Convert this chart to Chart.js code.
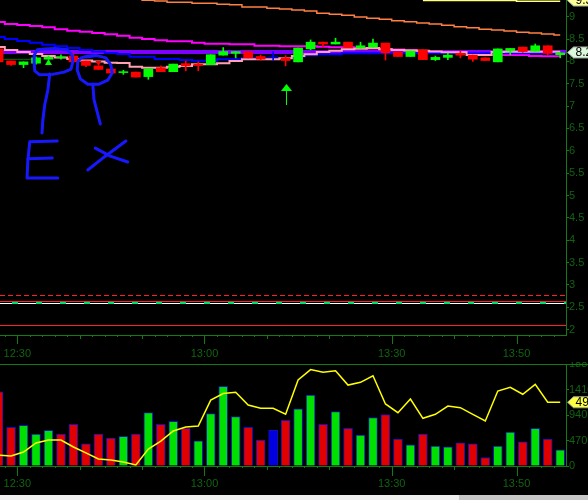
<!DOCTYPE html>
<html>
<head>
<meta charset="utf-8">
<script src="https://cdn.jsdelivr.net/npm/chart.js@4.4.1/dist/chart.umd.min.js"></script>
<style>
    html, body { margin: 0; padding: 0; background: #000; }
    body { width: 588px; height: 500px; position: relative; overflow: hidden; }
    #priceBox { position: absolute; left: 0; top: 0; width: 588px; height: 362px; }
    #volBox { position: absolute; left: 0; top: 362px; width: 588px; height: 133px; }
    .scroll { position: absolute; top: 495px; height: 5px; }
</style>
</head>
<body>
<div id="priceBox"><canvas id="priceChart" width="588" height="362"></canvas></div>
<div id="volBox"><canvas id="volChart" width="588" height="133"></canvas></div>
<div class="scroll" style="left:0;width:459px;background:#f0f0f0"></div>
<div class="scroll" style="left:459px;width:129px;background:#c8c8c8"></div>

<script>
// ==============================
// Data (2 minute bars)
// ==============================
const barTimes = [
    "12:27", "12:29", "12:31", "12:33", "12:35", "12:37", "12:39", "12:41", "12:43", "12:45",
    "12:47", "12:49", "12:51", "12:53", "12:55", "12:57", "12:59", "13:01", "13:03", "13:05",
    "13:07", "13:09", "13:11", "13:13", "13:15", "13:17", "13:19", "13:21", "13:23", "13:25",
    "13:27", "13:29", "13:31", "13:33", "13:35", "13:37", "13:39", "13:41", "13:43", "13:45",
    "13:47", "13:49", "13:51", "13:53", "13:55", "13:57"
];

const opens = [8.28, 8.01, 7.93, 7.96, 8.05, 8.08, 8.12, 8.01, 7.90, 7.83, 7.75, 7.76, 7.66, 7.86, 7.77, 7.95,
    7.94, 7.93, 8.14, 8.18, 8.22, 8.11, 8.12, 8.08, 7.99, 8.28, 8.43, 8.39, 8.43, 8.30, 8.32, 8.41,
    8.21, 8.11, 8.26, 8.04, 8.09, 8.18, 8.14, 8.08, 7.99, 8.24, 8.32, 8.23, 8.35, 8.15];
const highs = [8.28, 8.01, 7.99, 8.10, 8.12, 8.15, 8.18, 8.01, 7.90, 7.87, 7.80, 7.76, 7.83, 7.90, 7.94, 8.01,
    7.99, 8.15, 8.31, 8.22, 8.22, 8.14, 8.22, 8.13, 8.30, 8.48, 8.43, 8.52, 8.43, 8.43, 8.50, 8.41,
    8.21, 8.23, 8.26, 8.12, 8.18, 8.23, 8.14, 8.08, 8.28, 8.29, 8.32, 8.39, 8.35, 8.19];
const lows = [7.99, 7.91, 7.86, 7.94, 8.05, 8.05, 7.99, 7.88, 7.82, 7.74, 7.71, 7.65, 7.60, 7.77, 7.77, 7.79,
    7.79, 7.93, 8.14, 8.08, 8.08, 8.03, 8.03, 7.90, 7.99, 8.26, 8.33, 8.39, 8.31, 8.30, 8.32, 8.03,
    8.11, 8.11, 8.04, 8.02, 8.04, 8.08, 8.00, 8.02, 7.99, 8.15, 8.20, 8.23, 8.14, 8.08];
const closes = [7.99, 7.93, 7.99, 8.08, 8.09, 8.10, 7.99, 7.91, 7.82, 7.74, 7.77, 7.65, 7.83, 7.77, 7.94, 7.90,
    7.91, 8.15, 8.22, 8.22, 8.08, 8.05, 8.12, 8.02, 8.30, 8.43, 8.39, 8.43, 8.31, 8.35, 8.41, 8.19,
    8.11, 8.23, 8.04, 8.09, 8.14, 8.14, 8.05, 8.02, 8.28, 8.29, 8.22, 8.35, 8.18, 8.19];

// moving averages
const orangeAvg = [9.63, 9.61, 9.59, 9.57, 9.55, 9.53, 9.51, 9.49, 9.47, 9.45, 9.43, 9.41, 9.367, 9.351, 9.322, 9.322,
    9.300, 9.300, 9.277, 9.265, 9.217, 9.217, 9.188, 9.172, 9.150, 9.128, 9.076, 9.054, 9.031, 8.993, 8.964, 8.942,
    8.911, 8.888, 8.859, 8.837, 8.808, 8.776, 8.754, 8.718, 8.702, 8.680, 8.651, 8.635, 8.613, 8.591];
const magentaAvg = [8.881, 8.837, 8.814, 8.792, 8.763, 8.718, 8.687, 8.664, 8.635, 8.606, 8.575, 8.530, 8.501, 8.472, 8.450, 8.450,
    8.418, 8.396, 8.396, 8.383, 8.383, 8.351, 8.351, 8.338, 8.338, 8.338, 8.329, 8.315, 8.315, 8.300, 8.289, 8.277,
    8.266, 8.255, 8.233, 8.210, 8.204, 8.204, 8.188, 8.166, 8.143, 8.143, 8.143, 8.121, 8.114, 8.114];
const blueAvg = [8.546, 8.501, 8.456, 8.418, 8.374, 8.338, 8.300, 8.255, 8.221, 8.188, 8.166, 8.105, 8.105, 8.054, 8.054, 8.031,
    8.016, 8.016, 8.047, 8.047, 8.069, 8.069, 8.069, 8.069, 8.105, 8.136, 8.159, 8.159, 8.181, 8.181, 8.181, 8.181,
    8.181, 8.181, 8.181, 8.181, 8.181, 8.181, 8.181, 8.181, 8.181, 8.181, 8.181, 8.181, 8.181, 8.181];
const pinkAvg = [8.322, 8.255, 8.210, 8.166, 8.121, 8.087, 8.054, 8.020, 7.998, 7.971, 7.964, 7.881, 7.859, 7.859, 7.881, 7.897,
    7.935, 7.935, 7.957, 8.009, 8.047, 8.047, 8.047, 8.069, 8.121, 8.159, 8.210, 8.239, 8.271, 8.284, 8.300, 8.271,
    8.255, 8.244, 8.239, 8.221, 8.204, 8.204, 8.143, 8.143, 8.210, 8.217, 8.217, 8.217, 8.217, 8.217];
const yellowLevel = [null, null, null, null, null, null, null, null, null, null, null, null, null, null, null, null,
    null, null, null, null, null, null, null, null, null, null, null, null, null, null, null, null,
    null, null, 9.362, 9.362, 9.362, 9.362, 9.362, 9.362, 9.362, 9.362, 9.345, 9.345, 9.345, 9.345];
const greenLevel = [8.047, 8.047, 8.047, 8.047];

// horizontal price levels
const levelPrices = [8.20, 2.77, 2.64, 2.595, 2.10];
const levelColors = ["#8000ff", "#ff2020", "#ff2020", "#ffffff", "#ff2020"];
const levelWidths = [4, 1, 1, 1, 1];
const levelDashes = [[], [5, 3], [], [], []];

// signals
const signalTimes = ["12:35", "12:43", "13:13"];
const signalPrices = [8.05, 8.00, 7.49];
const signalKinds = ["buy", "sell", "arrow"];

// volume panel
const volumes = [1368, 714, 750, 588, 660, 588, 768, 408, 588, 516, 546, 588, 984, 768, 822, 696,
    462, 966, 1470, 912, 714, 480, 660, 840, 1056, 1308, 768, 1002, 696, 570, 894, 948,
    498, 390, 588, 366, 354, 426, 408, 156, 366, 624, 444, 696, 498, 300];
const volumeSides = "rrgggrrrrrgrgrgrggggrrbrggrgrggrrgrggrrrggrgrg".split("");
const volumeIndicator = [8.5, 7.7, 10.8, 17.8, 20.1, 20.1, 14.7, 10.1, 5.4, 4.6, 3.1, 0.8, 13.1, 19.3, 27.1, 30.2,
    30.9, 51.0, 56.1, 57.0, 47.2, 44.6, 44.6, 40.0, 66.5, 74.6, 72.5, 73.7, 62.6, 64.7, 69.8, 48.0,
    41.2, 51.8, 36.9, 40.0, 46.4, 45.1, 40.0, 34.8, 58.0, 60.9, 55.5, 63.2, 49.3, 49.3];

// axis tick labels
const timeLabels = ["12:30", "13:00", "13:30", "13:50"];

// hand drawn notes (time in minutes after 12:00, price)
const doodles = [
    [[34.4, 8.28], [36.0, 8.29], [38.0, 8.26], [38.8, 8.14], [38.9, 7.99], [38.6, 7.83], [37.5, 7.76], [35.6, 7.71],
     [33.6, 7.70], [32.8, 7.79], [32.7, 7.99], [32.7, 8.14], [33.2, 8.26], [34.4, 8.28], [35.6, 8.28]],
    [[35.2, 7.72], [34.9, 7.36], [34.4, 7.03], [34.1, 6.69], [33.96, 6.40]],
    [[36.4, 6.22], [32.0, 6.20], [31.7, 5.79], [31.56, 5.39], [36.5, 5.39]],
    [[31.7, 5.82], [35.6, 5.84]],
    [[40.9, 8.10], [42.8, 8.13], [44.2, 8.08], [45.0, 7.92], [45.2, 7.74], [44.5, 7.58], [43.1, 7.49], [41.3, 7.49],
     [40.1, 7.61], [39.6, 7.81], [39.7, 7.99], [40.2, 8.08], [41.3, 8.12], [42.5, 8.13]],
    [[42.1, 7.49], [42.3, 7.14], [42.8, 6.87], [43.3, 6.60]],
    [[41.3, 5.57], [44.1, 5.88], [47.4, 6.22]],
    [[42.5, 6.06], [44.9, 5.88], [47.7, 5.75]]
];


// ==============================
// Helpers
// ==============================
const axisGreen = "#147a14";
const labelGreen = "#106410";
const tickFont = { family: "'Liberation Sans', Arial, sans-serif", size: 11 };
const RED = "#ff0000";
const GREEN = "#00ff00";
const BLUE = "#0000ff";

function toMinutes(t) {
    const parts = t.split(":").map(Number);
    return (parts[0] - 12) * 60 + parts[1];
}

const barX = barTimes.map(toMinutes);
const labelMinutes = timeLabels.map(toMinutes);
const xMin = 27.23;
const xMax = 117.93;

function candleColor(i) {
    if (closes[i] > opens[i]) return GREEN;
    if (closes[i] < opens[i]) return RED;
    return BLUE;
}

function lineSet(label, values, color, width, order) {
    return {
        type: "line",
        label: label,
        data: values.map((v, i) => ({ x: barX[i], y: v })),
        borderColor: color,
        borderWidth: width,
        pointRadius: 0,
        stepped: "middle",
        spanGaps: false,
        order: order
    };
}

function timeAxis(height, pad) {
    return {
        type: "linear",
        min: xMin,
        max: xMax,
        offset: false,
        afterBuildTicks: scale => {
            scale.ticks = labelMinutes.map(m => ({ value: m }));
        },
        afterFit: scale => {
            scale.height = height;
            scale.paddingLeft = 0;
            scale.paddingRight = 0;
        },
        ticks: {
            color: labelGreen,
            font: tickFont,
            padding: pad,
            maxRotation: 0,
            autoSkip: false,
            callback: value => timeLabels[labelMinutes.indexOf(value)] || ""
        },
        grid: { display: false, drawTicks: false },
        border: { display: true, color: axisGreen, width: 1 }
    };
}

function valueAxis(min, max, step) {
    return {
        position: "right",
        min: min,
        max: max,
        afterFit: scale => {
            scale.width = 22;
            scale.paddingTop = 0;
            scale.paddingBottom = 0;
        },
        ticks: {
            stepSize: step,
            includeBounds: false,
            color: labelGreen,
            font: tickFont,
            padding: 0,
            callback: v => String(v)
        },
        grid: { drawOnChartArea: false, drawTicks: true, tickLength: 3, color: axisGreen },
        border: { display: true, color: axisGreen, width: 1 }
    };
}

function drawTimeTicks(chart, majorLen) {
    const { ctx, chartArea, scales } = chart;
    const sx = scales.x;
    ctx.save();
    ctx.strokeStyle = axisGreen;
    ctx.lineWidth = 1;
    ctx.beginPath();
    for (let m = Math.ceil(sx.min / 2) * 2; m <= sx.max; m += 2) {
        let len = 2;
        if (m % 10 === 0) len = 4;
        if (labelMinutes.includes(m)) len = majorLen;
        const px = Math.round(sx.getPixelForValue(m)) + 0.5;
        ctx.moveTo(px, chartArea.bottom);
        ctx.lineTo(px, chartArea.bottom + len);
    }
    ctx.stroke();
    ctx.restore();
}

function drawTag(ctx, tipX, y, text, fill) {
    ctx.save();
    ctx.beginPath();
    ctx.moveTo(tipX, y);
    ctx.lineTo(tipX + 6, y - 5.5);
    ctx.lineTo(tipX + 40, y - 5.5);
    ctx.lineTo(tipX + 40, y + 5.5);
    ctx.lineTo(tipX + 6, y + 5.5);
    ctx.closePath();
    ctx.fillStyle = fill;
    ctx.fill();
    ctx.strokeStyle = "#9aa89a";
    ctx.lineWidth = 1;
    ctx.stroke();
    ctx.fillStyle = "#000";
    ctx.font = "12px 'Liberation Sans', Arial, sans-serif";
    ctx.textBaseline = "middle";
    ctx.fillText(text, tipX + 8, y + 0.5);
    ctx.restore();
}


// ==============================
// Price panel decorations
// ==============================
const priceDecor = {
    id: "priceDecor",
    beforeDatasetsDraw(chart) {
        const { ctx, chartArea: a, scales } = chart;
        const y = scales.y;
        ctx.save();
        levelPrices.forEach((p, k) => {
            const w = levelWidths[k];
            const py = Math.round(y.getPixelForValue(p)) + (w % 2 ? 0.5 : 0);
            ctx.strokeStyle = levelColors[k];
            ctx.lineWidth = w;
            ctx.setLineDash(levelDashes[k]);
            ctx.beginPath();
            ctx.moveTo(a.left, py);
            ctx.lineTo(a.right, py);
            ctx.stroke();
        });
        // green dashes on the white level
        const gy = Math.round(y.getPixelForValue(levelPrices[3]));
        ctx.strokeStyle = "#00e070";
        ctx.lineWidth = 2;
        ctx.setLineDash([6, 18]);
        ctx.lineDashOffset = 12;
        ctx.beginPath();
        ctx.moveTo(a.left, gy);
        ctx.lineTo(a.right, gy);
        ctx.stroke();
        ctx.restore();
    },
    afterDatasetsDraw(chart) {
        const { ctx, scales } = chart;
        const sx = scales.x, sy = scales.y;
        ctx.save();

        signalTimes.forEach((t, k) => {
            const px = Math.round(sx.getPixelForValue(toMinutes(t))) + 0.5;
            const py = Math.round(sy.getPixelForValue(signalPrices[k]));
            ctx.beginPath();
            if (signalKinds[k] === "buy") {
                ctx.fillStyle = GREEN;
                ctx.moveTo(px, py);
                ctx.lineTo(px + 3.5, py + 6);
                ctx.lineTo(px - 3.5, py + 6);
                ctx.fill();
            } else if (signalKinds[k] === "sell") {
                ctx.fillStyle = RED;
                ctx.moveTo(px - 3, py);
                ctx.lineTo(px + 3, py);
                ctx.lineTo(px, py + 5);
                ctx.fill();
            } else {
                ctx.fillStyle = GREEN;
                ctx.moveTo(px, py);
                ctx.lineTo(px + 5.5, py + 7);
                ctx.lineTo(px - 5.5, py + 7);
                ctx.fill();
                ctx.strokeStyle = GREEN;
                ctx.lineWidth = 1;
                ctx.beginPath();
                ctx.moveTo(px, py + 6);
                ctx.lineTo(px, py + 21);
                ctx.stroke();
            }
        });

        // hand drawn blue notes
        ctx.strokeStyle = "#1818ff";
        ctx.lineWidth = 3;
        ctx.lineJoin = "round";
        ctx.lineCap = "round";
        doodles.forEach(stroke => {
            ctx.beginPath();
            stroke.forEach((pt, j) => {
                const px = sx.getPixelForValue(pt[0]);
                const py = sy.getPixelForValue(pt[1]);
                if (j === 0) ctx.moveTo(px, py); else ctx.lineTo(px, py);
            });
            ctx.stroke();
        });
        ctx.restore();
    },
    afterDraw(chart) {
        const { ctx, scales } = chart;
        drawTimeTicks(chart, 9);
        const tipX = scales.y.left + 1.5;
        drawTag(ctx, tipX, scales.y.getPixelForValue(9.362), "9.36", "#ffff9a");
        drawTag(ctx, tipX, scales.y.getPixelForValue(levelPrices[0]), "8.20", "#dcf8dc");
    }
};

const volumeDecor = {
    id: "volumeDecor",
    afterDraw(chart) {
        const { ctx, chartArea: a, scales } = chart;
        ctx.save();
        ctx.strokeStyle = axisGreen;
        ctx.lineWidth = 1;
        ctx.beginPath();
        ctx.moveTo(0, a.top + 0.5);
        ctx.lineTo(chart.width, a.top + 0.5);
        ctx.stroke();
        ctx.restore();
        drawTimeTicks(chart, 10);
        const last = volumeIndicator[volumeIndicator.length - 1];
        drawTag(ctx, scales.y.left + 1.5, scales.y2.getPixelForValue(last), last.toFixed(1), "#ffff40");
    }
};


// ==============================
// Price chart
// ==============================
new Chart(document.getElementById("priceChart"), {
    data: {
        datasets: [
            {
                type: "bar",
                label: "Bodies",
                data: barX.map((x, i) => ({ x: x, y: [opens[i], closes[i]] })),
                backgroundColor: barX.map((x, i) => candleColor(i)),
                barThickness: 9,
                grouped: false,
                order: 0
            },
            {
                type: "bar",
                label: "Wicks",
                data: barX.map((x, i) => ({ x: x, y: [lows[i], highs[i]] })),
                backgroundColor: barX.map((x, i) => candleColor(i)),
                barThickness: 1,
                grouped: false,
                order: 1
            },
            lineSet("Pink", pinkAvg, "#ffa0b4", 2, 2),
            lineSet("Blue", blueAvg, "#0000ff", 2, 3),
            lineSet("Magenta", magentaAvg, "#ff00ff", 2, 4),
            lineSet("Green", greenLevel, "#107010", 1, 5),
            lineSet("Yellow", yellowLevel, "#ffff80", 1.5, 6),
            lineSet("Orange", orangeAvg, "#ff8040", 1.5, 7)
        ]
    },
    options: {
        responsive: false,
        animation: false,
        devicePixelRatio: 1,
        layout: { padding: 0 },
        plugins: {
            legend: { display: false },
            tooltip: { enabled: false }
        },
        scales: {
            x: timeAxis(27, 12),
            y: valueAxis(1.879, 9.374, 0.5)
        }
    },
    plugins: [priceDecor]
});


// ==============================
// Volume chart
// ==============================
const sideColors = { r: "#e00000", g: "#00e000", b: "#0000e0" };

new Chart(document.getElementById("volChart"), {
    data: {
        datasets: [
            {
                type: "line",
                label: "Volume indicator",
                data: volumeIndicator.map((v, i) => ({ x: barX[i], y: v })),
                yAxisID: "y2",
                borderColor: "#ffff00",
                borderWidth: 1.5,
                pointRadius: 0,
                tension: 0,
                order: 0
            },
            {
                type: "bar",
                label: "Volume",
                data: volumes.map((v, i) => ({ x: barX[i], y: v })),
                backgroundColor: volumeSides.map(s => sideColors[s]),
                borderColor: "#1010c0",
                borderWidth: 1,
                barThickness: 9,
                grouped: false,
                order: 1
            }
        ]
    },
    options: {
        responsive: false,
        animation: false,
        devicePixelRatio: 1,
        layout: { padding: { top: 2, left: 0, right: 0, bottom: 0 } },
        plugins: {
            legend: { display: false },
            tooltip: { enabled: false }
        },
        scales: {
            x: timeAxis(29, 11),
            y: valueAxis(0, 1881, 450),
            y2: {
                display: false,
                min: 0,
                max: 78.9
            }
        }
    },
    plugins: [volumeDecor]
});
</script>
</body>
</html>
